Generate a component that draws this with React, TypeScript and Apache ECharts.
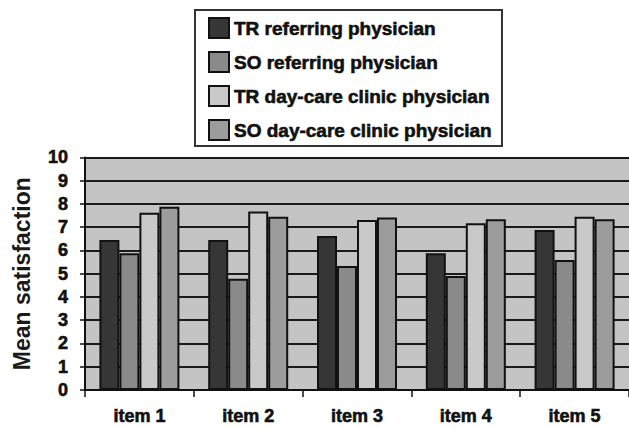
import React, { useEffect, useRef } from "react";
import * as echarts from "echarts";

const categories = ["item 1", "item 2", "item 3", "item 4", "item 5"];
const seriesNames = [
  "TR referring physician",
  "SO referring physician",
  "TR day-care clinic physician",
  "SO day-care clinic physician",
];
const trReferring = [6.45, 6.45, 6.62, 5.88, 6.88];
const soReferring = [5.88, 4.78, 5.33, 4.9, 5.59];
const trDayCare = [7.62, 7.67, 7.31, 7.17, 7.45];
const soDayCare = [7.88, 7.45, 7.42, 7.34, 7.34];
const yTicks = [0, 10, 1];

const seriesValues = [trReferring, soReferring, trDayCare, soDayCare];
const colors = ["#363636", "#8a8a8a", "#c9c9c9", "#9c9c9c"];

export default function App() {
  const ref = useRef<HTMLDivElement>(null);
  useEffect(() => {
    if (!ref.current) return;
    const chart = echarts.init(ref.current, undefined, { renderer: "svg" });
    const font = "'Liberation Sans', Arial, sans-serif";
    const heavy = { textBorderColor: "#111111", textBorderWidth: 0.6 };
    chart.setOption({
      animation: false,
      backgroundColor: "#ffffff",
      textStyle: { fontFamily: font },
      legend: {
        orient: "vertical",
        left: 195,
        top: 10,
        itemWidth: 20,
        itemHeight: 20,
        itemGap: 12,
        padding: [7, 10, 5, 13],
        backgroundColor: "#ffffff",
        borderColor: "#333333",
        borderWidth: 2,
        icon: "rect",
        textStyle: {
          fontFamily: font,
          fontWeight: "bold",
          fontSize: 19,
          color: "#111111",
          ...heavy,
        },
        data: seriesNames,
      },
      grid: {
        left: 85,
        top: 157.4,
        width: 550,
        height: 232.6,
        show: true,
        backgroundColor: "#c4c4c4",
        borderWidth: 0,
      },
      xAxis: {
        type: "category",
        data: categories,
        axisLine: { show: true, lineStyle: { color: "#111111", width: 2 } },
        axisTick: { show: true, length: 7, lineStyle: { color: "#111111", width: 1.5 } },
        axisLabel: {
          margin: 17,
          fontSize: 18,
          fontWeight: "bold",
          color: "#111111",
          fontFamily: font,
          ...heavy,
        },
        splitLine: { show: false },
      },
      yAxis: {
        type: "value",
        min: yTicks[0],
        max: yTicks[1],
        interval: yTicks[2],
        name: "Mean satisfaction",
        nameLocation: "middle",
        nameRotate: 90,
        nameGap: 52,
        nameTextStyle: {
          fontSize: 23,
          fontWeight: "bold",
          color: "#1a1a1a",
          fontFamily: font,
        },
        axisLine: { show: true, lineStyle: { color: "#111111", width: 2 } },
        axisTick: { show: true, length: 5, lineStyle: { color: "#111111", width: 1.5 } },
        axisLabel: {
          margin: 17,
          fontSize: 18,
          fontWeight: "bold",
          color: "#111111",
          fontFamily: font,
          ...heavy,
        },
        splitLine: { show: true, lineStyle: { color: "#1a1a1a", width: 1.8 } },
      },
      series: seriesNames.map((name, i) => ({
        name,
        type: "bar",
        data: seriesValues[i],
        barWidth: 20,
        barGap: "0%",
        itemStyle: { color: colors[i], borderColor: "#111111", borderWidth: 2 },
      })),
    });
    return () => chart.dispose();
  }, []);
  return (
    <div
      ref={ref}
      style={{ position: "fixed", left: 0, top: 0, width: 629, height: 428 }}
    />
  );
}
